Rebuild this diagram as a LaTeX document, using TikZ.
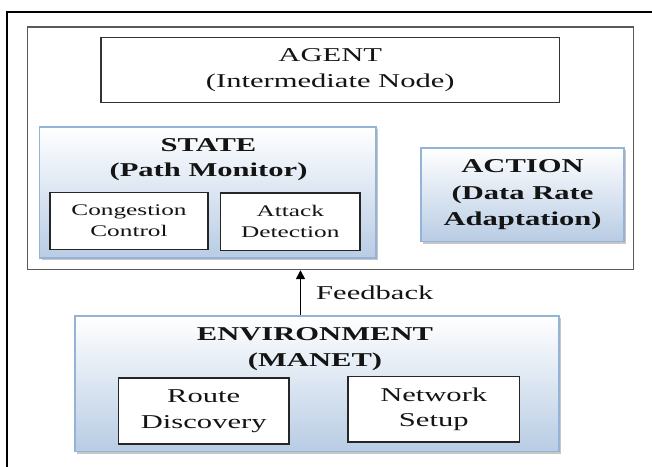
\documentclass[tikz,border=0pt]{standalone}
\usepackage{fontspec}
\setmainfont{Liberation Serif}[FakeStretch=1.56]
\usetikzlibrary{shadows,arrows.meta}

\definecolor{boxline}{HTML}{95B3D7}
\definecolor{boxbot}{HTML}{B8CCE4}
\definecolor{framegray}{HTML}{595959}
\definecolor{inktext}{HTML}{141414}

\tikzset{
  bigtext/.style={font=\fontsize{19.6}{25.5}\selectfont, text=inktext},
  smalltext/.style={font=\fontsize{16.2}{21}\selectfont, text=inktext},
  bluebox/.style={rectangle, draw=boxline, line width=1.6pt, inner sep=0pt,
    top color=white, bottom color=boxbot, align=center,
    drop shadow={shadow xshift=2.2pt, shadow yshift=-2.4pt, fill=black!40, opacity=0.55}},
  whitebox/.style={rectangle, draw=black!85, line width=1.3pt, fill=white,
    inner sep=0pt, align=center},
  framebox/.style={rectangle, draw=framegray, line width=1.4pt, inner sep=0pt}
}

\begin{document}
\begin{tikzpicture}[x=1pt, y=-1pt]
  \useasboundingbox (0,0) rectangle (652,466);

  % outer page frame (left and top edges only visible)
  \draw[black, line width=2pt] (7,470) -- (7,12) -- (660,12);

  % agent frame
  \node[framebox, minimum width=606pt, minimum height=242.5pt] (frame) at (330.5,148.25) {};

  \node[whitebox, bigtext, draw=black!80, minimum width=458.5pt, minimum height=65pt]
    (agent) at (330.25,70) {AGENT\\(Intermediate Node)};

  % state block
  \node[bluebox, minimum width=336.5pt, minimum height=131pt] (state) at (207.75,192.5) {};
  \node[bigtext, align=center, inner sep=0pt] (statelbl) at (208.5,159.5) {\bfseries STATE\\\bfseries(Path Monitor)};
  \node[whitebox, smalltext, minimum width=158pt, minimum height=57pt]
    (cong) at (129,221) {Congestion\\Control};
  \node[whitebox, smalltext, minimum width=139.5pt, minimum height=57.5pt]
    (attack) at (290.25,221.75) {Attack\\Detection};

  % action block
  \node[bluebox, bigtext, font=\fontsize{19.6}{26.5}\selectfont\bfseries,
    minimum width=203pt, minimum height=93.5pt]
    (action) at (522.5,194.75) {ACTION\\(Data Rate\\Adaptation)};

  % environment block
  \node[bluebox, minimum width=484pt, minimum height=135.5pt] (env) at (317,383.75) {};
  \node[bigtext, align=center, inner sep=0pt] (envlbl) at (315,349) {\bfseries ENVIRONMENT\\\bfseries(MANET)};
  \node[whitebox, bigtext, minimum width=170.5pt, minimum height=66pt]
    (route) at (203.75,411) {Route\\Discovery};
  \node[whitebox, bigtext, minimum width=171.5pt, minimum height=65.5pt]
    (network) at (433.75,409.25) {Network\\Setup};

  % feedback connector
  \coordinate (fb) at (300.5,316);
  \draw[black, line width=1.4pt, -{Triangle[length=9pt, width=9pt]}]
    (env.north -| fb) -- (frame.south -| fb);
  \node[bigtext, anchor=west, inner sep=0pt] (feedback) at (316,292.5) {Feedback};
\end{tikzpicture}
\end{document}
